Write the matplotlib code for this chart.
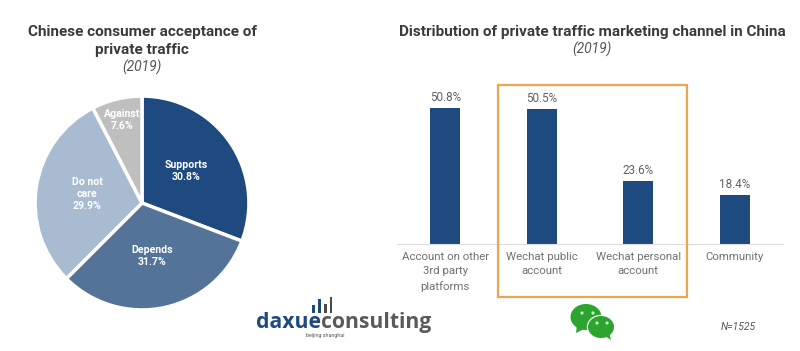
import matplotlib
matplotlib.use('Agg')
from matplotlib import pyplot as plt
from matplotlib.patches import Ellipse, Polygon, Rectangle

plt.rcParams['font.family'] = ['Roboto', 'DejaVu Sans']

pie_labels = ['Supports', 'Depends', 'Do not\ncare', 'Against']
pie_values = [30.8, 31.7, 29.9, 7.6]
pie_colors = ['#1f4a7f', '#537399', '#a9bbd1', '#bfbfbf']

channels = ['Account on other\n3rd party\nplatforms', 'Wechat public\naccount',
            'Wechat personal\naccount', 'Community']
shares = [50.8, 50.5, 23.6, 18.4]

W, H = 800, 351
fig = plt.figure(figsize=(W / 100, H / 100), dpi=100)


def box(x0, y0, x1, y1):
    # pixel box from the top left -> figure fractions
    return [x0 / W, 1 - y1 / H, (x1 - x0) / W, (y1 - y0) / H]


# overlay in pixel coords for titles, frame, logo
bg = fig.add_axes([0, 0, 1, 1])
bg.set_xlim(0, W)
bg.set_ylim(H, 0)
bg.axis('off')

bg.text(142, 32, 'Chinese consumer acceptance of', ha='center', va='center', fontsize=10.95,
        fontweight='bold', color='#3a3a3a')
bg.text(142, 50, 'private traffic', ha='center', va='center', fontsize=10.95,
        fontweight='bold', color='#3a3a3a')
bg.text(142, 67, '(2019)', ha='center', va='center', fontsize=10, style='italic', color='#555555')
bg.text(592, 32, 'Distribution of private traffic marketing channel in China', ha='center', va='center',
        fontsize=10.95, fontweight='bold', color='#3a3a3a')
bg.text(592, 49, '(2019)', ha='center', va='center', fontsize=10, style='italic', color='#555555')

# pie
ax1 = fig.add_axes(box(34, 95, 250, 311))
wedges, _ = ax1.pie(pie_values, colors=pie_colors, startangle=90, counterclock=False, radius=1,
                    wedgeprops={'edgecolor': 'white', 'linewidth': 2.5})
ax1.set_xlim(-1.01, 1.01)
ax1.set_ylim(-1.01, 1.01)
label_pos = [(186, 171), (152, 256), (87, 194), (122, 120)]
for lab, val, (px, py) in zip(pie_labels, pie_values, label_pos):
    fig.text(px / W, 1 - py / H, f'{lab}\n{val}%', ha='center', va='center', fontsize=7.6,
             fontweight='bold', color='white', linespacing=1.25, zorder=10)

# bars
ax2 = fig.add_axes(box(397, 80, 783, 244))
ax2.bar(range(len(shares)), shares, width=0.31, color='#1f4a7f')
ax2.set_xlim(-0.5, 3.5)
ax2.set_ylim(0, 61.2)
ax2.patch.set_alpha(0)
for s in ['top', 'left', 'right']:
    ax2.spines[s].set_visible(False)
ax2.spines['bottom'].set_color('#dddddd')
ax2.set_yticks([])
ax2.set_xticks(range(len(channels)))
ax2.set_xticklabels(channels, fontsize=8.2, color='#707070', linespacing=1.5)
ax2.tick_params(axis='x', length=0, pad=6)
for i, v in enumerate(shares):
    ax2.annotate(f'{v}%', (i, v), xytext=(0, 2.5), textcoords='offset points', ha='center', va='bottom',
                 fontsize=8.4, color='#606060')

# highlight frame
bg2 = fig.add_axes([0, 0, 1, 1], zorder=5)
bg2.set_xlim(0, W)
bg2.set_ylim(H, 0)
bg2.axis('off')
bg2.add_patch(Rectangle((498, 85), 189, 212, fill=False, edgecolor='#eda54f', linewidth=1.6))

# logo
for x, top in [(312, 305), (318, 299), (324, 304), (329.5, 297)]:
    bg2.add_patch(Rectangle((x, top), 2.5, 313 - top, color='#4a4a4a' if x > 320 else '#1f4a7f', lw=0))
t1 = bg2.text(256, 328, 'daxue', fontsize=15.2, fontweight='bold', color='#1f4a7f', family='Open Sans',
              ha='left', va='baseline')
t2 = bg2.annotate('consulting', xy=(1, 0), xycoords=t1, xytext=(0, 0), textcoords='offset points',
                  fontsize=15.2, fontweight='bold', color='#5a5a5a', family='Open Sans', ha='left', va='bottom')
bg2.text(325, 335.5, 'beijing shanghai', fontsize=3.8, color='#555555', ha='center', va='center')

# wechat icon
green = '#2ba52e'
bg2.add_patch(Ellipse((586, 317), 31, 26, color=green, lw=0))
bg2.add_patch(Polygon([(577, 325), (576, 333), (586, 328)], color=green, lw=0))
bg2.add_patch(Ellipse((601, 327), 28.5, 24.5, color='white', lw=0))
bg2.add_patch(Ellipse((601, 327), 26, 22, color=green, lw=0))
bg2.add_patch(Polygon([(605, 336), (611, 340), (609, 332)], color=green, lw=0))
for x, y in [(582, 313), (593, 313), (597, 323), (607, 323)]:
    bg2.add_patch(Ellipse((x, y), 3.2, 3.2, color='#d5ecd5', lw=0))

bg2.text(738, 327, 'N=1525', fontsize=7.5, style='italic', color='#555555', ha='center', va='center')

fig.savefig('out.png', dpi=100)
plt.close()
